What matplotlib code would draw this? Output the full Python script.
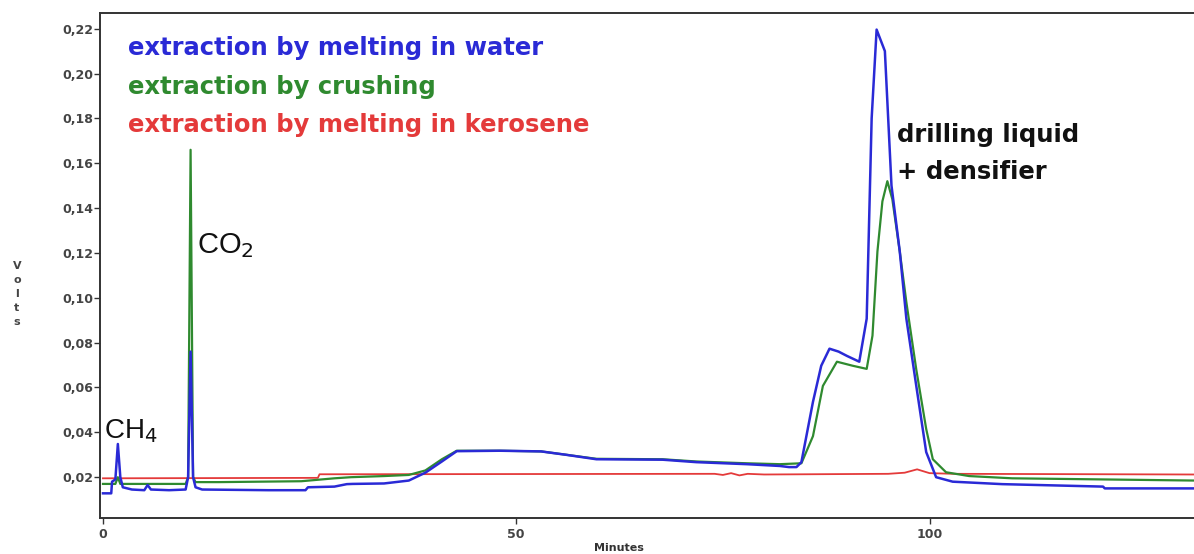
import matplotlib
matplotlib.use("Agg")
import matplotlib.pyplot as plt
from matplotlib.ticker import FuncFormatter

# blue: extraction by melting in water
water_x = [0, 1.0, 1.1, 1.5, 1.8, 2.1, 2.4, 3.5, 5.0, 5.4, 5.8, 8, 10.0, 10.3, 10.6, 10.9, 11.2, 12,
           20, 24.5, 24.8, 28, 29.5, 30.2, 34, 37, 39, 41, 42.8, 48, 53, 56, 59.7, 67.7, 71.8, 77.9,
           81.9, 83, 83.9, 84.5, 85.9, 86.9, 87.9, 89, 90, 91.5, 92.4, 93.0, 93.6, 94.6, 95.4, 96.4,
           97.2, 98.4, 99.6, 100.8, 102.8, 108.8, 121, 121.2, 132]
water_y = [0.0128, 0.0128, 0.018, 0.019, 0.0348, 0.020, 0.0155, 0.0145, 0.0142, 0.0165, 0.0145, 0.0142,
           0.0145, 0.020, 0.076, 0.020, 0.0155, 0.0145, 0.0142, 0.0142, 0.0155, 0.0158, 0.0169, 0.017,
           0.0172, 0.0185, 0.022, 0.027, 0.0316, 0.0318, 0.0315, 0.030, 0.028, 0.0278, 0.0267, 0.0258,
           0.025, 0.0245, 0.0245, 0.0267, 0.0536, 0.0697, 0.0773, 0.076, 0.0741, 0.0715, 0.0907, 0.18,
           0.2196, 0.210, 0.150, 0.1207, 0.0907, 0.0607, 0.0312, 0.020, 0.018, 0.0169, 0.0158, 0.015, 0.015]

# green: extraction by crushing
crush_x = [0, 1.5, 1.8, 2.1, 10.0, 10.3, 10.6, 10.9, 11.2, 14, 24, 28, 30, 34, 37, 39, 41, 42.8, 48,
           53, 59.7, 67.7, 71.8, 77.9, 81.9, 84.5, 85.9, 87.1, 88.8, 90.7, 92.4, 93.1, 93.7, 94.3, 94.9,
           95.5, 96.4, 97.2, 98.4, 99.6, 100.4, 102, 104.8, 110, 132]
crush_y = [0.017, 0.017, 0.020, 0.017, 0.017, 0.020, 0.166, 0.020, 0.0178, 0.0178, 0.0182, 0.0195, 0.020,
           0.0205, 0.021, 0.023, 0.028, 0.0318, 0.0318, 0.0315, 0.0282, 0.028, 0.027, 0.0262, 0.0258,
           0.0262, 0.0383, 0.0607, 0.0715, 0.0697, 0.0683, 0.0831, 0.1207, 0.143, 0.152, 0.144, 0.1207,
           0.098, 0.068, 0.0415, 0.028, 0.0222, 0.0205, 0.0195, 0.0185]

# red: extraction by melting in kerosene
kero_x = [0, 26, 26.2, 74, 75, 76, 77, 78, 80, 95, 97, 98.5, 100, 103, 132]
kero_y = [0.0195, 0.0197, 0.0213, 0.0215, 0.021, 0.0218, 0.0208, 0.0215, 0.0212, 0.0215, 0.022,
          0.0235, 0.0218, 0.0215, 0.0212]

labels = ["extraction by melting in water", "extraction by crushing", "extraction by melting in kerosene"]
colors = ["#2a2ad6", "#2f8a2f", "#e43a3a"]
y_ticks = [0.02, 0.04, 0.06, 0.08, 0.10, 0.12, 0.14, 0.16, 0.18, 0.20, 0.22]
x_ticks = [0, 50, 100]

fig = plt.figure(figsize=(11.94, 5.54), dpi=100)
ax = fig.add_axes([100 / 1194, 36 / 554, 1094 / 1194, 505 / 554])

ax.plot(kero_x, kero_y, color=colors[2], lw=1.3)
ax.plot(crush_x, crush_y, color=colors[1], lw=1.6)
ax.plot(water_x, water_y, color=colors[0], lw=1.8)

ax.set_xlim(-0.36, 132)
ax.set_ylim(0.0018, 0.227)
ax.set_xticks(x_ticks)
ax.set_yticks(y_ticks)
ax.yaxis.set_major_formatter(FuncFormatter(lambda v, p: f"{v:.2f}".replace(".", ",")))
ax.tick_params(direction="out", length=4, width=1, colors="#333333", labelsize=9)
ax.tick_params(axis="y", pad=1)
for lab in ax.get_xticklabels() + ax.get_yticklabels():
    lab.set_fontweight("bold")
    lab.set_color("#444444")

ax.spines["right"].set_visible(False)
for s in ["left", "top", "bottom"]:
    ax.spines[s].set_linewidth(1.4)
    ax.spines[s].set_color("#333333")

# series labels
for i, (lab, c) in enumerate(zip(labels, colors)):
    ax.text(3.0, 0.2112 - i * 0.017, lab, color=c, fontsize=17.5, fontweight="bold", va="center")

ax.text(96.1, 0.1725, "drilling liquid", fontsize=17.5, fontweight="bold", va="center", color="#111111")
ax.text(96.1, 0.1560, "+ densifier", fontsize=17.5, fontweight="bold", va="center", color="#111111")
ax.text(11.4, 0.1234, "CO$_2$", fontsize=21, va="center", color="#111111",
        family="Liberation Sans")
ax.text(0.1, 0.0406, "CH$_4$", fontsize=20, va="center", color="#111111",
        family="Liberation Sans")

fig.text(17 / 1194, 260 / 554, "V\no\nl\nt\ns", fontsize=8, fontweight="bold", color="#444444",
         ha="center", va="center", linespacing=1.5)
fig.text(619 / 1194, 6 / 554, "Minutes", fontsize=8, fontweight="bold", color="#333333",
         ha="center", va="center")

fig.savefig("out.png", dpi=100)
